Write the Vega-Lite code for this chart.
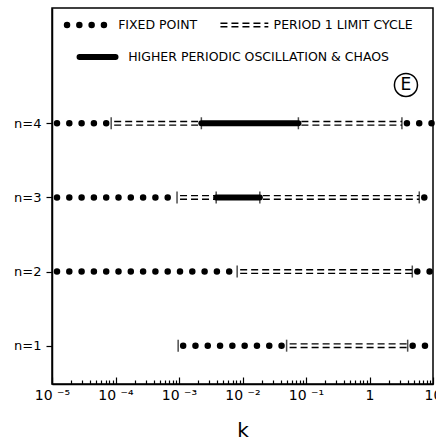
{
  "$schema": "https://vega.github.io/schema/vega-lite/v6.json",
  "width": 381,
  "height": 376,
  "autosize": {"type": "none"},
  "padding": {"left": 52, "top": 8, "right": 3, "bottom": 57},
  "background": "white",
  "config": {"view": {"stroke": "black", "strokeWidth": 1.5}, "font": "DejaVu Sans"},
  "datasets": {
    "segments": [
      {"y": 4, "regime": "fixed", "k": 0.00001, "k2": 0.0000855},
      {"y": 4, "regime": "p1", "k": 0.0000855, "k2": 0.00225},
      {"y": 4, "regime": "chaos", "k": 0.00225, "k2": 0.0759},
      {"y": 4, "regime": "p1", "k": 0.0759, "k2": 3.24},
      {"y": 4, "regime": "fixed", "k": 3.24, "k2": 10},
      {"y": 3, "regime": "fixed", "k": 0.00001, "k2": 0.000931},
      {"y": 3, "regime": "p1", "k": 0.000931, "k2": 0.00385},
      {"y": 3, "regime": "chaos", "k": 0.00385, "k2": 0.01875},
      {"y": 3, "regime": "p1", "k": 0.01875, "k2": 6.08},
      {"y": 3, "regime": "fixed", "k": 6.08, "k2": 10},
      {"y": 2, "regime": "fixed", "k": 0.00001, "k2": 0.00824},
      {"y": 2, "regime": "p1", "k": 0.00824, "k2": 4.72},
      {"y": 2, "regime": "fixed", "k": 4.72, "k2": 10},
      {"y": 1, "regime": "fixed", "k": 0.00097, "k2": 0.0495},
      {"y": 1, "regime": "p1", "k": 0.0495, "k2": 3.99},
      {"y": 1, "regime": "fixed", "k": 3.99, "k2": 10},
      {"y": 5.326, "regime": "fixed", "k": 0.00001439, "k2": 0.0000738},
      {"y": 5.326, "regime": "p1", "k": 0.00403, "k2": 0.0255},
      {"y": 4.894, "regime": "chaos", "k": 0.00002716, "k2": 0.0001}
    ],
    "bounds": [
      {"y": 4, "k": 0.0000855}, {"y": 4, "k": 0.00225}, {"y": 4, "k": 0.0759}, {"y": 4, "k": 3.24},
      {"y": 3, "k": 0.000931}, {"y": 3, "k": 0.00385}, {"y": 3, "k": 0.01875}, {"y": 3, "k": 6.08},
      {"y": 2, "k": 0.00824}, {"y": 2, "k": 4.72},
      {"y": 1, "k": 0.00097}, {"y": 1, "k": 0.0495}, {"y": 1, "k": 3.99}
    ],
    "labels": [
      {"y": 5.326, "k": 0.00011, "t": "FIXED POINT"},
      {"y": 5.326, "k": 0.0309, "t": "PERIOD 1 LIMIT CYCLE"},
      {"y": 4.894, "k": 0.0001585, "t": "HIGHER PERIODIC OSCILLATION & CHAOS"}
    ],
    "marker": [{"y": 4.517, "k": 3.75, "t": "E"}]
  },
  "encoding": {
    "x": {
      "field": "k", "type": "quantitative", "title": "k",
      "scale": {"type": "log", "domain": [0.00001, 10], "nice": false},
      "axis": {
        "values": [0.00001,0.00002,0.00003,0.00004,0.00005,0.00006,0.00007,0.00008,0.00009,
                   0.0001,0.0002,0.0003,0.0004,0.0005,0.0006,0.0007,0.0008,0.0009,
                   0.001,0.002,0.003,0.004,0.005,0.006,0.007,0.008,0.009,
                   0.01,0.02,0.03,0.04,0.05,0.06,0.07,0.08,0.09,
                   0.1,0.2,0.3,0.4,0.5,0.6,0.7,0.8,0.9,
                   1,2,3,4,5,6,7,8,9,10],
        "labelExpr": "abs(log(datum.value)/LN10 - round(log(datum.value)/LN10)) > 0.001 ? '' : datum.value >= 9.9 ? '10' : datum.value >= 0.99 ? '1' : '10 ' + ['⁻⁵','⁻⁴','⁻³','⁻²','⁻¹'][round(log(datum.value)/LN10) + 5]",
        "tickSize": {"condition": {"test": "abs(log(datum.value)/LN10 - round(log(datum.value)/LN10)) < 0.001", "value": -7}, "value": -4},
        "tickColor": "black", "tickWidth": 1.2,
        "domainColor": "black", "domainWidth": 1.5,
        "labelColor": "black", "labelFontSize": 14, "labelPadding": 11,
        "labelOverlap": false, "labelFlush": false, "labelBound": false,
        "titleFontSize": 20, "titleFontWeight": "normal", "titleColor": "black", "titlePadding": 15,
        "grid": false
      }
    },
    "y": {
      "field": "y", "type": "quantitative", "title": null,
      "scale": {"domain": [0.483, 5.555], "nice": false, "zero": false},
      "axis": {
        "values": [1, 2, 3, 4],
        "labelExpr": "'n=' + datum.value",
        "tickSize": 6, "tickColor": "black", "tickWidth": 1.2,
        "domainColor": "black", "domainWidth": 1.5,
        "labelColor": "black", "labelFontSize": 13, "labelPadding": 5,
        "grid": false
      }
    }
  },
  "layer": [
    {
      "data": {"name": "segments"},
      "transform": [{"filter": "datum.regime == 'fixed'"}],
      "mark": {"type": "rule", "color": "black", "strokeWidth": 6.5, "strokeCap": "round", "strokeDash": [0, 12.3], "strokeDashOffset": -5},
      "encoding": {"x2": {"field": "k2"}}
    },
    {
      "data": {"name": "segments"},
      "transform": [{"filter": "datum.regime == 'p1'"}],
      "mark": {"type": "rule", "color": "black", "strokeWidth": 1.4, "strokeDash": [7, 4], "strokeDashOffset": -3, "yOffset": -1.8},
      "encoding": {"x2": {"field": "k2"}}
    },
    {
      "data": {"name": "segments"},
      "transform": [{"filter": "datum.regime == 'p1'"}],
      "mark": {"type": "rule", "color": "black", "strokeWidth": 1.4, "strokeDash": [7, 4], "strokeDashOffset": -3, "yOffset": 1.8},
      "encoding": {"x2": {"field": "k2"}}
    },
    {
      "data": {"name": "segments"},
      "transform": [{"filter": "datum.regime == 'chaos'"}],
      "mark": {"type": "rule", "color": "black", "strokeWidth": 6, "strokeCap": "round"},
      "encoding": {"x2": {"field": "k2"}}
    },
    {
      "data": {"name": "bounds"},
      "mark": {"type": "tick", "orient": "vertical", "color": "black", "size": 12, "thickness": 1.5}
    },
    {
      "data": {"name": "labels"},
      "mark": {"type": "text", "align": "left", "baseline": "middle", "fontSize": 12.5, "color": "black"},
      "encoding": {"text": {"field": "t"}}
    },
    {
      "data": {"name": "marker"},
      "mark": {"type": "point", "shape": "circle", "filled": false, "size": 531, "color": "black", "strokeWidth": 1.5, "opacity": 1}
    },
    {
      "data": {"name": "marker"},
      "mark": {"type": "text", "align": "center", "baseline": "middle", "fontSize": 17, "color": "black"},
      "encoding": {"text": {"field": "t"}}
    }
  ]
}
